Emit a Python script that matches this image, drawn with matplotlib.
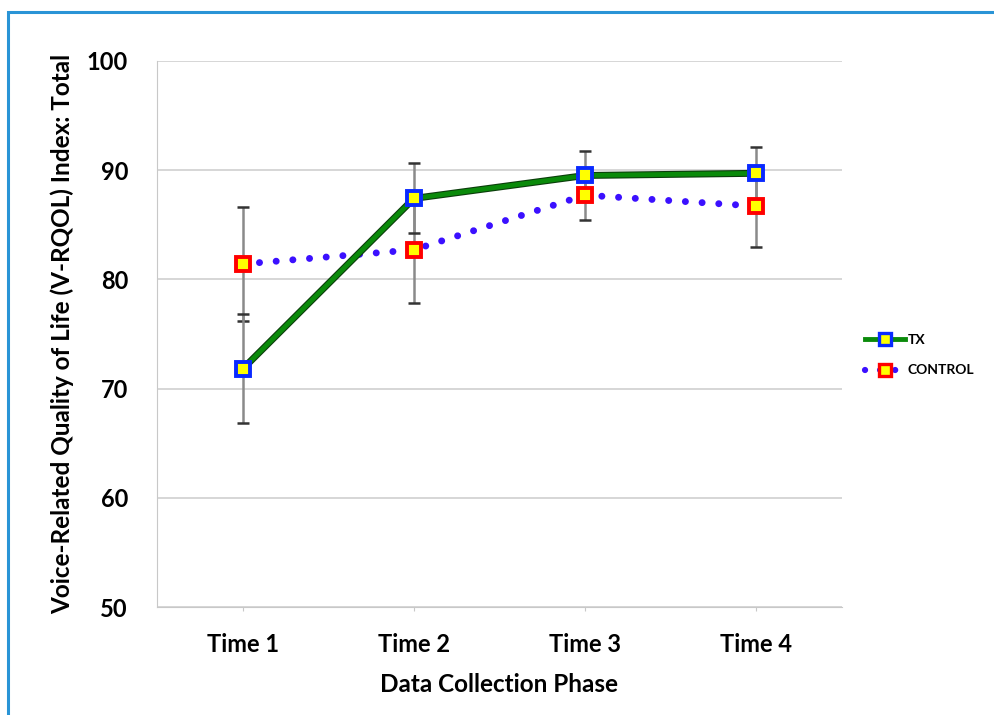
import matplotlib
matplotlib.use("Agg")
import matplotlib.pyplot as plt
import matplotlib.patheffects as pe
from matplotlib.lines import Line2D
from matplotlib.patches import Rectangle

categories = ["Time 1", "Time 2", "Time 3", "Time 4"]
tx_values = [71.8, 87.4, 89.5, 89.7]
tx_err = [5.0, 3.2, 2.25, 2.4]
control_values = [81.4, 82.7, 87.7, 86.7]
control_err = [5.2, 4.9, 2.3, 3.7]
y_ticks = [50, 60, 70, 80, 90, 100]

plt.rcParams['font.family'] = ['Lato', 'DejaVu Sans']
plt.rcParams['font.weight'] = 'bold'

fig = plt.figure(figsize=(9.95, 7.15), dpi=100)
ax = fig.add_axes([0.158, 0.151, 0.688, 0.764])

# blue border frame
fig.patches.append(Rectangle((8/995, -0.1), 1.2, 1 - 12/715 + 0.1, transform=fig.transFigure,
                             fill=False, edgecolor='#2a94d6', linewidth=2.2, zorder=0))

x = list(range(len(categories)))

for vals, errs in [(control_values, control_err), (tx_values, tx_err)]:
    ax.errorbar(x, vals, yerr=errs, fmt='none', ecolor='#8a8a8a',
                elinewidth=1.8, capsize=0, zorder=3)
    ax.errorbar(x, vals, yerr=errs, fmt='none', ecolor='#333333',
                elinewidth=0, capsize=4, capthick=1.8, zorder=3)

ctrl_line, = ax.plot(x, control_values, color='#3b10ff', linewidth=5,
                     linestyle=(0, (0.01, 2.4)), dash_capstyle='round', zorder=4)
tx_line, = ax.plot(x, tx_values, color='#0a8a0a', linewidth=3.4, zorder=5,
                   path_effects=[pe.Stroke(linewidth=5, foreground='#0b3d0b'), pe.Normal()])
ax.plot(x, control_values, linestyle='none', marker='s', markersize=10,
        markerfacecolor='#ffff00', markeredgecolor='#ff0000', markeredgewidth=2.8, zorder=6)
ax.plot(x, tx_values, linestyle='none', marker='s', markersize=10,
        markerfacecolor='#ffff00', markeredgecolor='#0a2aff', markeredgewidth=2.8, zorder=7)

ax.set_xlim(-0.5, len(categories) - 0.5)
ax.set_ylim(50, 100)
ax.set_yticks(y_ticks)
ax.set_xticks(x)
ax.set_xticklabels(categories, fontsize=17, fontweight='bold')
ax.set_yticklabels([str(t) for t in y_ticks], fontsize=17, fontweight='bold')
ax.grid(True, axis='y', color='#cfcfcf', linewidth=1.2, zorder=0)
ax.set_axisbelow(True)
for s in ['top', 'right']:
    ax.spines[s].set_visible(False)
ax.spines['left'].set_color('#c8c8c8')
ax.spines['bottom'].set_color('#c8c8c8')
ax.tick_params(axis='y', length=0, pad=21)
ax.tick_params(axis='x', length=3, color='#c8c8c8', pad=16)

ax.set_xlabel("Data Collection Phase", fontsize=17.5, fontweight='bold', labelpad=12)
ax.set_ylabel("Voice-Related Quality of Life (V-RQOL) Index: Total", fontsize=17.5,
              fontweight='bold', labelpad=9)

h_tx = Line2D([0], [0], color='#0a8a0a', linewidth=3.5, marker='s', markersize=8,
              markerfacecolor='#ffff00', markeredgecolor='#0a2aff', markeredgewidth=2.4)
h_ct = Line2D([0], [0], color='#3b10ff', linewidth=4.5, linestyle=(0, (0.01, 2.4)),
              dash_capstyle='round', marker='s', markersize=8,
              markerfacecolor='#ffff00', markeredgecolor='#ff0000', markeredgewidth=2.4)
fig.legend([h_tx, h_ct], ["TX", "CONTROL"], loc='center left',
           bbox_to_anchor=(0.857, 0.503), frameon=False,
           handlelength=2.9, handletextpad=0.15, labelspacing=1.3,
           prop={'weight': 'bold', 'size': 10})

fig.savefig("out.png", dpi=100)
